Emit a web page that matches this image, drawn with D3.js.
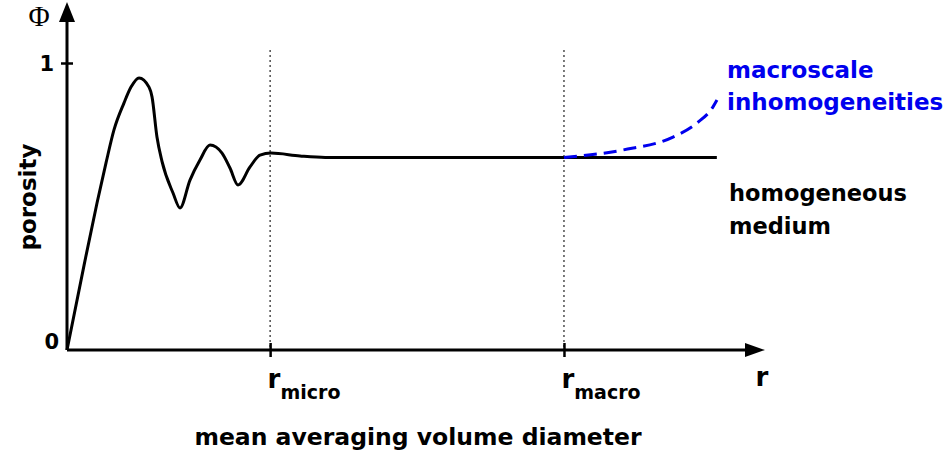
<!DOCTYPE html>
<html>
<head>
<meta charset="utf-8">
<script src="https://cdn.jsdelivr.net/npm/d3@7"></script>
<style>
  html, body { margin: 0; padding: 0; background: #fff; }
  svg { display: block; }
</style>
</head>
<body>
<svg id="chart" width="945" height="454"></svg>
<script>
// Averaging volume diameter (relative units) and porosity along the curve
const diameter = [0, 2.44, 4.30, 5.59, 6.73, 8.17, 9.17, 10.32, 11.75, 12.18, 12.89, 13.6, 15.19, 16.19,
                  17.62, 19.05, 20.49, 22.21, 23.35, 24.5, 26.22, 27.65, 29.23, 33.38, 37.0, 50, 65, 80, 93.1];
const porosity = [0, 0.295, 0.512, 0.652, 0.767, 0.861, 0.916, 0.948, 0.916, 0.882, 0.742, 0.658, 0.547, 0.495,
                  0.592, 0.662, 0.714, 0.686, 0.634, 0.575, 0.638, 0.679, 0.686, 0.676, 0.671, 0.671, 0.671, 0.671, 0.671];

// Departure at large scales caused by macroscale inhomogeneities
const macroDiameter = [71.2, 79.66, 86.82, 90.26, 92.55, 93.12];
const macroPorosity = [0.671, 0.697, 0.742, 0.791, 0.847, 0.871];

// Characteristic scales marked on the diameter axis
const scaleMarks = [29.1, 71.2];
const scaleNames = ["micro", "macro"];
const porosityTicks = [0, 1];

const FONT = "'DejaVu Sans', sans-serif";
const svg = d3.select("#chart");
const x = d3.scaleLinear().domain([0, 100]).range([67, 765]);
const y = d3.scaleLinear().domain([0, 1]).range([350, 63]);

function label(sel, size) {
  return sel.attr("font-family", FONT).attr("font-weight", "bold").attr("font-size", size);
}

// dotted guides at the characteristic scales
svg.selectAll("line.guide").data(scaleMarks).join("line")
  .attr("class", "guide")
  .attr("x1", d => x(d)).attr("x2", d => x(d))
  .attr("y1", 50).attr("y2", y(0))
  .attr("stroke", "#222").attr("stroke-width", 1.2)
  .attr("stroke-dasharray", "2,3");

// x axis
const xAxis = svg.append("g").attr("transform", `translate(0,${y(0)})`)
  .call(d3.axisBottom(x).tickValues(scaleMarks).tickSize(7).tickFormat(""));
xAxis.select(".domain").attr("d", `M${x(0)},0H${x(100) - 16}`).attr("stroke", "#000").attr("stroke-width", 3);
xAxis.selectAll(".tick line").attr("y1", -7).attr("y2", 7).attr("stroke", "#000").attr("stroke-width", 2.5);
xAxis.selectAll(".tick").each(function(d, i) {
  const t = label(d3.select(this).append("text"), 26)
    .attr("x", -3).attr("y", 38).attr("fill", "#000").attr("text-anchor", "start");
  t.append("tspan").text("r");
  t.append("tspan").attr("font-size", 19).attr("dy", 11).text(scaleNames[i]);
});
svg.append("path")
  .attr("d", `M${x(100)},${y(0)}L${x(100) - 20},${y(0) - 7}L${x(100) - 20},${y(0) + 7}Z`)
  .attr("fill", "#000");

// y axis
const yAxis = svg.append("g").attr("transform", `translate(${x(0)},0)`)
  .call(d3.axisLeft(y).tickValues(porosityTicks).tickSize(6).tickFormat(d3.format("d")));
yAxis.select(".domain").attr("d", `M0,${y(0)}V18`).attr("stroke", "#000").attr("stroke-width", 3);
yAxis.selectAll(".tick line")
  .attr("x1", -6).attr("x2", 6).attr("stroke", "#000").attr("stroke-width", 2.5)
  .attr("display", d => d === 0 ? "none" : null);
label(yAxis.selectAll(".tick text"), 21)
  .attr("fill", "#000")
  .attr("x", d => d === 0 ? -8 : -13)
  .attr("dy", d => d === 0 ? "-0.05em" : "0.36em");
yAxis.select(".domain").raise();
svg.append("path")
  .attr("d", `M${x(0)},2L${x(0) - 8},22L${x(0) + 8},22Z`)
  .attr("fill", "#000");

// porosity curve
const line = d3.line().x(d => x(d[0])).y(d => y(d[1])).curve(d3.curveMonotoneX);
svg.append("path")
  .datum(d3.zip(diameter, porosity))
  .attr("d", line)
  .attr("fill", "none").attr("stroke", "#000").attr("stroke-width", 3)
  .attr("stroke-linejoin", "round");

svg.append("path")
  .datum(d3.zip(macroDiameter, macroPorosity))
  .attr("d", line)
  .attr("fill", "none").attr("stroke", "#0000ee").attr("stroke-width", 3)
  .attr("stroke-dasharray", "13,7");

// labels
svg.append("text").attr("x", 39).attr("y", 26).attr("text-anchor", "middle")
  .attr("font-family", "'Liberation Serif', serif")
  .attr("font-size", 29).text("Φ");

label(svg.append("text"), 26).attr("x", x(100) - 3).attr("y", 386).attr("text-anchor", "middle").text("r");

label(svg.append("text"), 23).attr("transform", "translate(36,197) rotate(-90)")
  .attr("text-anchor", "middle").text("porosity");

label(svg.append("text"), 23.5).attr("x", 418).attr("y", 445).attr("text-anchor", "middle")
  .text("mean averaging volume diameter");

const blueNote = label(svg.append("text"), 23).attr("fill", "#0000ee");
blueNote.append("tspan").attr("x", 727).attr("y", 78).text("macroscale");
blueNote.append("tspan").attr("x", 727).attr("y", 110).text("inhomogeneities");

const blackNote = label(svg.append("text"), 22.5).attr("fill", "#000");
blackNote.append("tspan").attr("x", 729).attr("y", 201).text("homogeneous");
blackNote.append("tspan").attr("x", 729).attr("y", 234).text("medium");
</script>
</body>
</html>
